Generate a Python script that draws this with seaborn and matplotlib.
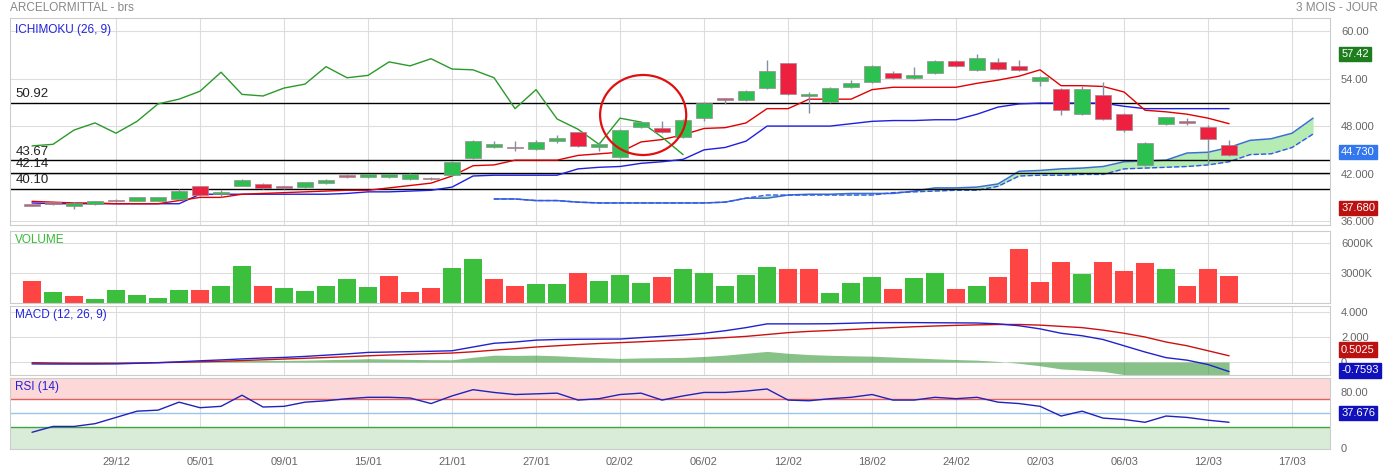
import numpy as np
import pandas as pd
import seaborn as sns
import matplotlib.pyplot as plt
from matplotlib.patches import Ellipse

sns.set_style("white")
plt.rcParams['font.family'] = ['Liberation Sans', 'DejaVu Sans']

# --- data (index = trading day) ---
opens = [38.0, 38.3, 37.9, 38.2, 38.6, 38.6, 38.6, 38.8, 40.4, 39.4, 40.5, 40.7, 40.3, 40.3, 40.8, 41.7,
         41.6, 41.6, 41.3, 41.4, 41.8, 44.0, 45.4, 45.3, 45.1, 46.1, 47.2, 45.4, 44.1, 47.9, 47.7, 46.6,
         49.0, 51.4, 51.3, 52.8, 55.9, 51.8, 51.0, 52.9, 53.6, 54.7, 54.1, 54.7, 56.2, 55.1, 56.1, 55.6,
         53.7, 52.7, 49.5, 51.9, 49.5, 43.1, 48.3, 48.5, 47.9, 45.6]
closes = [38.1, 38.3, 38.3, 38.5, 38.6, 39.0, 39.0, 39.8, 39.3, 39.7, 41.2, 40.2, 40.3, 40.9, 41.2, 41.7,
          41.9, 41.9, 42.0, 41.4, 43.5, 46.1, 45.7, 45.3, 46.0, 46.5, 45.5, 45.7, 47.5, 48.5, 47.2, 48.8,
          50.9, 51.4, 52.4, 54.9, 52.0, 52.1, 52.8, 53.4, 55.6, 54.1, 54.4, 56.2, 55.6, 56.6, 55.2, 55.1,
          54.2, 50.0, 52.7, 48.9, 47.5, 45.9, 49.1, 48.5, 46.4, 44.3]
highs = [38.2, 38.5, 38.4, 38.6, 38.8, 39.1, 39.1, 40.0, 40.5, 39.9, 41.3, 40.8, 40.5, 41.0, 41.3, 41.9,
         42.0, 42.0, 42.1, 41.6, 43.6, 46.2, 46.1, 46.1, 46.2, 46.9, 47.3, 46.0, 47.6, 48.6, 48.6, 48.9,
         51.0, 51.6, 52.6, 56.3, 56.0, 52.3, 52.9, 53.8, 55.7, 55.0, 55.4, 56.3, 56.3, 57.1, 56.6, 56.4,
         54.3, 52.8, 53.1, 53.6, 49.6, 46.0, 49.2, 49.0, 48.1, 46.2]
lows = [37.9, 38.0, 37.5, 38.1, 38.4, 38.5, 38.5, 38.7, 39.2, 39.1, 40.4, 40.1, 40.0, 40.2, 40.7, 41.4,
        41.5, 41.5, 41.2, 41.2, 41.7, 43.9, 45.2, 44.9, 45.0, 45.9, 45.4, 44.9, 44.0, 47.8, 47.1, 46.5,
        48.6, 50.8, 51.2, 52.7, 51.9, 49.6, 50.9, 52.8, 53.5, 54.0, 54.0, 54.6, 55.5, 55.0, 55.1, 54.9,
        53.0, 49.4, 49.4, 48.8, 47.3, 42.9, 48.1, 48.2, 43.2, 44.2]

tenkan = [38.5, 38.4, 38.3, 38.3, 38.2, 38.2, 38.2, 38.6, 39.0, 39.0, 39.4, 39.5, 39.6, 39.7, 39.8, 39.9,
          39.9, 40.2, 40.5, 40.8, 41.7, 43.0, 43.1, 43.7, 43.7, 43.7, 44.3, 44.5, 44.7, 46.0, 46.3, 46.9,
          47.7, 47.8, 48.4, 50.2, 50.2, 51.4, 51.4, 51.4, 52.6, 52.9, 52.9, 52.9, 52.9, 53.4, 53.8, 54.3,
          55.1, 53.1, 53.1, 53.0, 52.3, 50.0, 49.8, 49.5, 49.0, 48.3]
kijun = [38.3, 38.2, 38.2, 38.2, 38.2, 38.2, 38.2, 38.2, 39.4, 39.4, 39.4, 39.4, 39.4, 39.4, 39.4, 39.5,
         39.7, 39.7, 39.8, 39.9, 40.3, 41.7, 41.8, 41.8, 41.8, 41.8, 42.6, 42.8, 42.9, 43.3, 43.5, 43.8,
         45.0, 45.3, 46.1, 48.0, 48.0, 48.0, 48.0, 48.3, 48.6, 48.7, 48.7, 48.8, 48.8, 49.5, 50.4, 50.8,
         50.9, 50.9, 50.9, 50.9, 50.5, 50.2, 50.2, 50.2, 50.2, 50.2]
chikou = [45.5, 45.7, 47.5, 48.4, 47.1, 48.6, 50.8, 51.4, 52.4, 54.8, 52.0, 51.8, 52.8, 53.3, 55.5, 54.1,
          54.4, 56.1, 55.6, 56.5, 55.2, 55.1, 54.1, 50.2, 52.6, 48.9, 47.6, 45.7, 49.0, 48.5, 46.6, 44.4]
span_start = 22
span_a = [38.8, 38.8, 38.6, 38.6, 38.4, 38.3, 38.3, 38.3, 38.3, 38.3, 38.3, 38.4, 38.9, 38.9, 39.3, 39.4,
          39.4, 39.5, 39.5, 39.5, 39.8, 40.2, 40.2, 40.3, 40.7, 42.3, 42.4, 42.6, 42.7, 42.9, 43.5, 43.6,
          43.7, 44.6, 44.7, 45.3, 46.2, 46.4, 47.1, 49.0]
span_b = [38.8, 38.8, 38.6, 38.6, 38.4, 38.3, 38.3, 38.3, 38.3, 38.3, 38.3, 38.4, 38.9, 39.3, 39.3, 39.3,
          39.3, 39.3, 39.3, 39.6, 39.7, 39.8, 39.9, 39.9, 40.4, 41.7, 41.8, 41.8, 41.9, 41.9, 42.6, 42.7,
          42.8, 42.9, 43.1, 43.5, 44.4, 44.5, 45.3, 47.0]
levels = [50.92, 43.67, 42.14, 40.10]

volume = [2224, 1165, 741, 388, 1271, 777, 494, 1341, 1306, 1694, 3742, 1694, 1553, 1200, 1765, 2400,
          1624, 2753, 1094, 1518, 3530, 4412, 2400, 1730, 1871, 1871, 3036, 2259, 2859, 1977, 2577, 3389,
          3036, 1730, 2859, 3636, 3459, 3459, 1059, 2047, 2577, 1412, 2541, 3000, 1447, 1765, 2647, 5400,
          2118, 4094, 2965, 4130, 3247, 3989, 3459, 1765, 3424, 2718]
vol_up = "RGRGGGGGRGGRGGGGGRRRGGRRGGRGGGRGGGGGRRGGGRGGRGRRRRGRRRGRRR"

macd = [-0.15, -0.16, -0.16, -0.16, -0.15, -0.10, -0.05, 0.02, 0.10, 0.17, 0.25, 0.32, 0.37, 0.45, 0.55,
        0.65, 0.77, 0.80, 0.83, 0.86, 0.90, 1.20, 1.50, 1.60, 1.75, 1.80, 1.82, 1.83, 1.84, 1.95, 2.05,
        2.15, 2.30, 2.50, 2.75, 3.05, 3.05, 3.05, 3.06, 3.10, 3.15, 3.15, 3.15, 3.14, 3.13, 3.12, 3.05,
        2.90, 2.65, 2.30, 2.10, 1.80, 1.30, 0.80, 0.35, 0.15, -0.20, -0.76]
signal = [-0.05, -0.08, -0.10, -0.10, -0.10, -0.08, -0.05, -0.02, 0.02, 0.06, 0.12, 0.18, 0.24, 0.30,
          0.36, 0.43, 0.50, 0.56, 0.62, 0.67, 0.72, 0.82, 0.95, 1.07, 1.20, 1.30, 1.40, 1.48, 1.55, 1.62,
          1.70, 1.78, 1.85, 1.95, 2.05, 2.20, 2.35, 2.45, 2.52, 2.60, 2.68, 2.75, 2.82, 2.88, 2.93, 2.97,
          3.00, 3.00, 2.95, 2.85, 2.75, 2.55, 2.30, 2.00, 1.60, 1.30, 0.90, 0.50]

rsi = [22.6, 31, 31, 35, 44, 53, 54.5, 66, 58, 60, 76, 59, 60, 66, 68, 71, 73, 73, 72, 64, 75, 84, 80, 77,
       78, 79, 69, 71, 77, 79, 69, 75, 80, 80, 82, 85, 69, 68, 71, 73, 77, 69, 69, 73, 71, 73, 66, 64, 60,
       46, 53, 43, 41, 37, 46, 44, 40, 37]

tick_pos = list(range(4, 61, 4))
tick_labels = ['29/12', '05/01', '09/01', '15/01', '21/01', '27/01', '02/02', '06/02', '12/02',
               '18/02', '24/02', '02/03', '06/03', '12/03', '17/03']

df = pd.DataFrame({'i': np.arange(len(opens)), 'open': opens, 'close': closes, 'high': highs,
                   'low': lows, 'tenkan': tenkan, 'kijun': kijun, 'vol': volume,
                   'macd': macd, 'signal': signal, 'rsi': rsi})
span = pd.DataFrame({'i': np.arange(span_start, span_start + len(span_a)), 'a': span_a, 'b': span_b})

fig = plt.figure(figsize=(13.85, 4.7), dpi=100)
L, W = 0.0072, 0.953
ax1 = fig.add_axes([L, 0.521, W, 0.44])
ax2 = fig.add_axes([L, 0.355, W, 0.153])
ax3 = fig.add_axes([L, 0.202, W, 0.147])
ax4 = fig.add_axes([L, 0.045, W, 0.151])
XL = (-1.05, 61.8)
grid_c = '#dddddd'
lab_c = '#666666'

for ax in (ax1, ax2, ax3, ax4):
    ax.set_xlim(*XL)
    ax.set_xticks(tick_pos)
    ax.set_xticklabels([])
    ax.grid(axis='x', color=grid_c, lw=0.8)
    ax.grid(axis='y', color=grid_c, lw=0.8)
    ax.set_axisbelow(True)
    ax.yaxis.tick_right()
    ax.tick_params(length=0, labelsize=8, labelcolor=lab_c, pad=8)
    for s in ax.spines.values():
        s.set_color('#cccccc')


def tag(ax, y, txt, col):
    ax.text(1.0085, y, txt, transform=ax.get_yaxis_transform(), color='white', fontsize=8,
            va='center', ha='left', bbox=dict(boxstyle='square,pad=0.2', fc=col, ec=col))


# --- Ichimoku panel ---
ax1.set_ylim(35.5, 61.6)
ax1.set_yticks([36, 42, 48, 54, 60])
ax1.set_yticklabels(['36.000', '42.000', '48.000', '54.00', '60.00'])
ax1.fill_between(span['i'], span['a'], span['b'], color='#b4ecb4', lw=0)
sns.lineplot(data=span, x='i', y='a', ax=ax1, color='#3a6fd0', lw=1.1)
sns.lineplot(data=span, x='i', y='b', ax=ax1, color='#3355ee', lw=1, linestyle='--')
for lv in levels:
    ax1.axhline(lv, color='black', lw=1)
    ax1.text(0.004, lv + 0.35, f'{lv:.2f}', transform=ax1.get_yaxis_transform(), fontsize=9.5,
             color='#222222', va='bottom')
sns.lineplot(data=df, x='i', y='kijun', ax=ax1, color='#1f1fe0', lw=1)
sns.lineplot(data=df, x='i', y='tenkan', ax=ax1, color='#e00000', lw=1)
sns.lineplot(x=np.arange(len(chikou)), y=chikou, ax=ax1, color='#2a9a2a', lw=1)
ax1.vlines(df['i'], df['low'], df['high'], color='#8090a8', lw=1, zorder=3)
for _, r in df.iterrows():
    diff = r['close'] - r['open']
    if abs(diff) < 0.12:
        col, h, b = '#c0607a', 0.22, r['open'] - 0.11
    else:
        col = '#2cc050' if diff > 0 else '#ee2040'
        h, b = abs(diff), min(r['open'], r['close'])
    ax1.bar(r['i'], h, bottom=b, width=0.8, color=col, edgecolor='#9a8a90', lw=0.5, zorder=4)
ax1.add_patch(Ellipse((29.1, 49.4), 4.1, 10.1, fill=False, ec='#e01010', lw=1.6, zorder=6))
ax1.text(0.004, 0.975, 'ICHIMOKU (26, 9)', transform=ax1.transAxes, color='#2222dd', fontsize=8.5, va='top')
tag(ax1, 57.1, '57.42', '#1e7e1e')
tag(ax1, 44.73, '44.730', '#3377ee')
tag(ax1, 37.68, '37.680', '#bb1111')
fig.text(0.0072, 0.995, 'ARCELORMITTAL - brs', color='#888888', fontsize=8.5, va='top')
fig.text(0.995, 0.995, '3 MOIS - JOUR', color='#888888', fontsize=8.5, va='top', ha='right')

# --- Volume ---
ax2.set_ylim(0, 7200)
ax2.set_yticks([3000, 6000])
ax2.set_yticklabels(['3000K', '6000K'])
vcols = ['#3cbf3c' if c == 'G' else '#ff4444' for c in vol_up]
ax2.bar(df['i'], df['vol'], width=0.85, color=vcols, lw=0)
ax2.text(0.004, 0.96, 'VOLUME', transform=ax2.transAxes, color='#33bb33', fontsize=8.5, va='top')

# --- MACD ---
ax3.set_ylim(-1.04, 4.48)
ax3.set_yticks([0, 2, 4])
ax3.set_yticklabels(['0', '2.000', '4.000'])
hist = df['macd'] - df['signal']
ax3.fill_between(df['i'], 0, hist, color='#3a9a3a', alpha=0.6, lw=0)
sns.lineplot(data=df, x='i', y='signal', ax=ax3, color='#cc1111', lw=1)
sns.lineplot(data=df, x='i', y='macd', ax=ax3, color='#2222cc', lw=1)
ax3.text(0.004, 0.96, 'MACD (12, 26, 9)', transform=ax3.transAxes, color='#2222dd', fontsize=8.5, va='top')
tag(ax3, 1.0, '0.5025', '#bb1111')
tag(ax3, -0.66, '-0.7593', '#1111bb')

# --- RSI ---
ax4.set_ylim(-1.3, 101)
ax4.set_yticks([0, 80])
ax4.set_yticklabels(['0', '80.00'])
ax4.axhspan(70, 101, color='#fdd8d8', lw=0)
ax4.axhspan(-1.3, 30, color='#d8ecd8', lw=0)
ax4.axhline(70, color='#e06060', lw=1)
ax4.axhline(30, color='#44a044', lw=1)
ax4.axhline(50, color='#99c4ee', lw=1)
sns.lineplot(data=df, x='i', y='rsi', ax=ax4, color='#2222bb', lw=1)
ax4.text(0.004, 0.96, 'RSI (14)', transform=ax4.transAxes, color='#2222dd', fontsize=8.5, va='top')
tag(ax4, 50, '37.676', '#1111bb')
ax4.set_xticklabels(tick_labels)
ax4.tick_params(axis='x', labelsize=8, labelcolor=lab_c, pad=6)
for ax in (ax1, ax2, ax3, ax4):
    ax.set_xlabel('')
    ax.set_ylabel('')

fig.savefig('out.png', dpi=100)
